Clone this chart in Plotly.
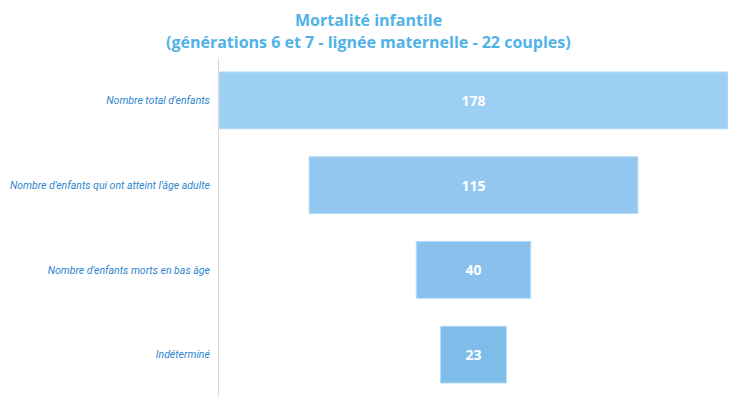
import plotly.graph_objects as go

stages = [
    "Nombre total d'enfants",
    "Nombre d'enfants qui ont atteint l'âge adulte",
    "Nombre d'enfants morts en bas âge",
    "Indéterminé",
]
counts = [178, 115, 40, 23]
bar_colors = ["#9DCEF3", "#93C7EF", "#88C1EC", "#7EBCEA"]
title_lines = [
    "Mortalité infantile",
    "(générations 6 et 7 - lignée maternelle - 22 couples)",
]

fig = go.Figure(
    go.Funnel(
        y=stages,
        x=counts,
        texttemplate="<b>%{value}</b>",
        textposition="inside",
        insidetextfont=dict(color="white", size=14, family="Open Sans"),
        marker=dict(color=bar_colors, line=dict(color="#B5DBF7", width=1)),
        connector=dict(visible=False),
        hoverinfo="y+x",
    )
)

# page body adds an 8px offset, so the figure is 8px smaller than the window
fig.update_layout(
    width=728,
    height=397,
    margin=dict(l=211, r=8, t=50, b=8, autoexpand=False),
    paper_bgcolor="white",
    plot_bgcolor="white",
    funnelgap=0.33,
    showlegend=False,
    xaxis=dict(range=[-89, 89], visible=False, fixedrange=True),
    yaxis=dict(
        showline=True,
        linecolor="#D9D9D9",
        linewidth=1,
        showgrid=False,
        ticks="",
        ticklabelstandoff=6,
        tickfont=dict(family="Roboto", size=10.5, color="#2E86D0", style="italic"),
    ),
)

# two title lines as annotations, spaced like the reference
for txt, ypos in zip(title_lines, [1.112, 1.048]):
    fig.add_annotation(
        text="<b>" + txt + "</b>",
        xref="paper", yref="paper",
        x=0.293, y=ypos,
        xanchor="center", yanchor="middle",
        showarrow=False,
        font=dict(family="Open Sans", size=16, color="#4FB3E8"),
    )

fig.write_html("out.html")
